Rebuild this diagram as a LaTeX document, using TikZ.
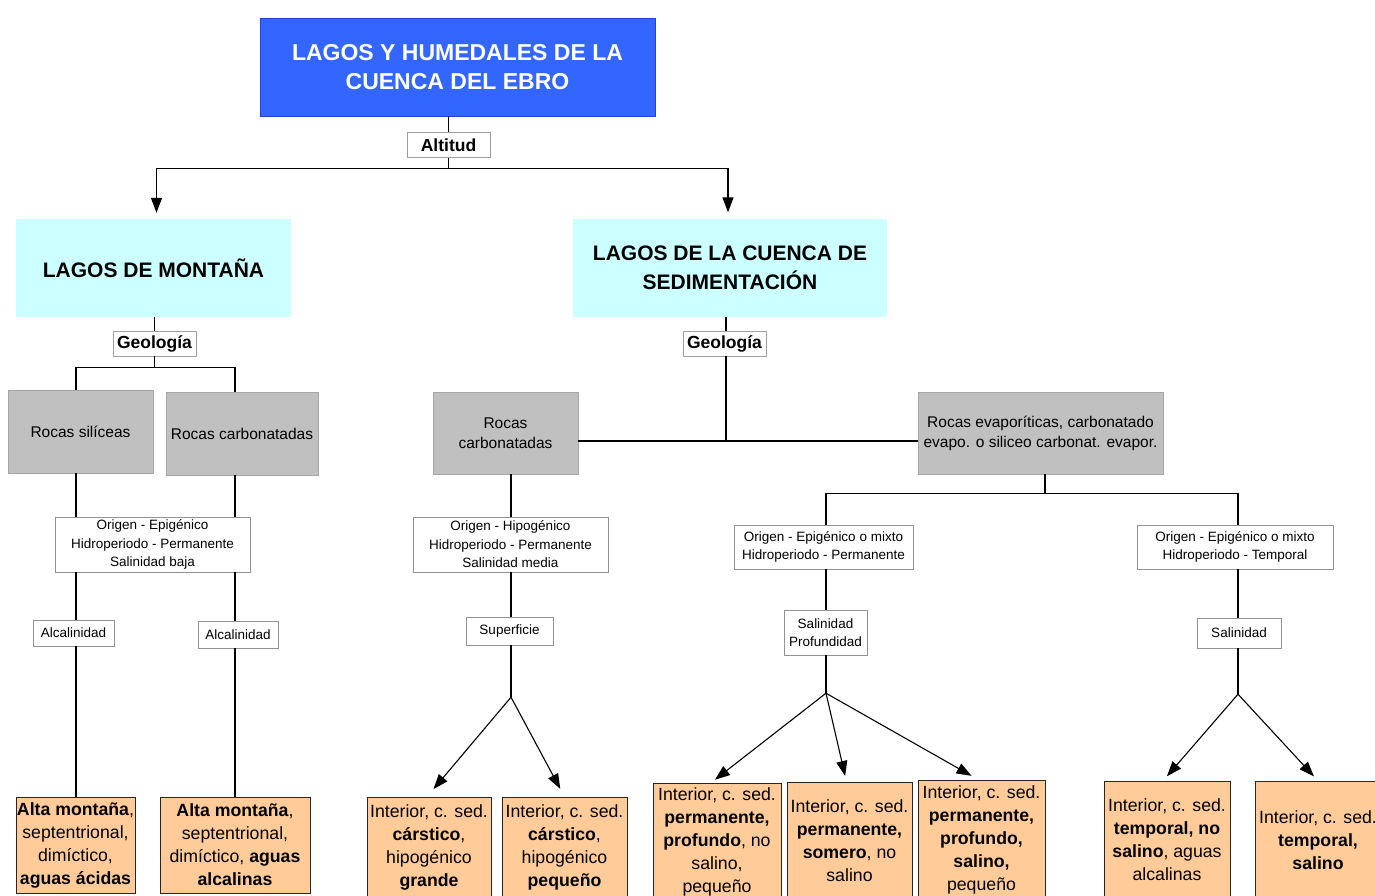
\documentclass[tikz,border=0pt]{standalone}
\usepackage{fontspec}
\setmainfont{Liberation Sans}
\usetikzlibrary{arrows.meta}
\definecolor{titleblue}{HTML}{3366FF}
\definecolor{titleline}{HTML}{2040E0}
\definecolor{paleaqua}{HTML}{CCFFFF}
\definecolor{rockgray}{HTML}{C0C0C0}
\definecolor{rockline}{HTML}{A6A6A6}
\definecolor{lakeorange}{HTML}{FFCC99}

\begin{document}
\begin{tikzpicture}[x=1pt, y=-1pt,
  titlebox/.style={draw=titleline, fill=titleblue, text=white, minimum width=395pt, minimum height=98pt, font=\fontsize{23}{29.5}\selectfont\bfseries, align=center, inner sep=0pt},
  grupo/.style={fill=paleaqua, minimum height=98pt, font=\fontsize{21}{29}\selectfont\bfseries, align=center, inner sep=0pt},
  criterio/.style={draw=gray!75, fill=white, minimum width=83pt, minimum height=25pt, font=\fontsize{17.5}{21}\selectfont\bfseries, inner sep=0pt},
  roca/.style={draw=rockline, fill=rockgray, minimum height=83pt, font=\fontsize{15.5}{20}\selectfont, align=center, inner sep=0pt},
  rasgo/.style={draw=gray!85, fill=white, font=\fontsize{13.5}{18.5}\selectfont, align=center, inner sep=0pt},
  lago/.style={draw=black!85, fill=lakeorange, font=\fontsize{17.7}{23}\selectfont, align=center, inner sep=0pt},
  link/.style={line width=1.1pt},
  arr/.style={link, -{Triangle[length=15pt, width=11pt]}}
]
  \clip (0,0) rectangle (1375,896);

  \node[titlebox] (ebro) at (457.5,67) {LAGOS Y HUMEDALES DE LA\\CUENCA DEL EBRO};
  \node[criterio] (altitud) at (448.5,145) {Altitud};
  \node[grupo, minimum width=275pt] (montana) at (153.5,268) {LAGOS DE MONTAÑA};
  \node[grupo, minimum width=314pt] (cuenca) at (730,267.5) {LAGOS DE LA CUENCA DE\\SEDIMENTACIÓN};
  \node[criterio] (geoM) at (154.5,343.5) {Geología};
  \node[criterio] (geoC) at (724.5,343.5) {Geología};

  \node[roca, minimum width=145pt] (silic) at (80.5,431.5) {Rocas silíceas};
  \node[roca, minimum width=152pt] (carbM) at (242,433.5) {Rocas carbonatadas};
  \node[roca, minimum width=145pt, minimum height=82pt] (carbC) at (505.5,433) {Rocas\\carbonatadas};
  \node[roca, minimum width=245pt, minimum height=82pt] (evap) at (1040.5,433) {Rocas evaporíticas, carbonatado\\evapo. o siliceo carbonat. evapor.};

  \node[rasgo, minimum width=195pt, minimum height=55pt] (origL) at (152.5,544.5) {Origen - Epigénico\\Hidroperiodo - Permanente\\Salinidad baja};
  \node[rasgo, minimum width=195pt, minimum height=55pt] (origC) at (510.5,544.5) {Origen - Hipogénico\\Hidroperiodo - Permanente\\Salinidad media};
  \node[rasgo, minimum width=179pt, minimum height=44pt] (origD) at (823.5,547) {Origen - Epigénico o mixto\\Hidroperiodo - Permanente};
  \node[rasgo, minimum width=196pt, minimum height=44pt] (origE) at (1235,547) {Origen - Epigénico o mixto\\Hidroperiodo - Temporal};

  \node[rasgo, minimum width=81pt, minimum height=26pt] (alcA) at (73.5,633) {Alcalinidad};
  \node[rasgo, minimum width=80pt, minimum height=27pt] (alcB) at (238,634.5) {Alcalinidad};
  \node[rasgo, minimum width=87pt, minimum height=28pt] (superf) at (509.5,631) {Superficie};
  \node[rasgo, minimum width=83pt, minimum height=45pt] (salprof) at (825.5,632.5) {Salinidad\\Profundidad};
  \node[rasgo, minimum width=84pt, minimum height=30pt] (salin) at (1239,633) {Salinidad};

  \node[lago, minimum width=119pt, minimum height=96pt] (acidas) at (75.5,845) {\textbf{Alta montaña},\\septentrional,\\dimíctico,\\\textbf{aguas ácidas}};
  \node[lago, minimum width=150pt, minimum height=96pt] (alcalinas) at (235,845) {\textbf{Alta montaña},\\septentrional,\\dimíctico, \textbf{aguas}\\\textbf{alcalinas}};
  \node[lago, minimum width=124pt, minimum height=100pt] (carstG) at (429,847) {Interior, c. sed.\\\textbf{cárstico},\\hipogénico\\\textbf{grande}};
  \node[lago, minimum width=125pt, minimum height=100pt] (carstP) at (564.5,847) {Interior, c. sed.\\\textbf{cárstico},\\hipogénico\\\textbf{pequeño}};
  \node[lago, minimum width=128pt, minimum height=118pt] (permProf) at (717,842) {Interior, c. sed.\\\textbf{permanente,}\\\textbf{profundo}, no\\salino,\\pequeño};
  \node[lago, minimum width=125pt, minimum height=118pt] (permSom) at (849.5,841) {Interior, c. sed.\\\textbf{permanente,}\\\textbf{somero}, no\\salino};
  \node[lago, minimum width=127pt, minimum height=120pt] (permSal) at (981.5,840) {Interior, c. sed.\\\textbf{permanente,}\\\textbf{profundo,}\\\textbf{salino,}\\pequeño};
  \node[lago, minimum width=126pt, minimum height=118pt] (tempNo) at (1167,840) {Interior, c. sed.\\\textbf{temporal, no}\\\textbf{salino}, aguas\\alcalinas};
  \node[lago, minimum width=126pt, minimum height=118pt] (tempSal) at (1318,840) {Interior, c. sed.\\\textbf{temporal,}\\\textbf{salino}};

  \coordinate (colA) at (76,0);
  \coordinate (colB) at (235,0);
  \coordinate (colC) at (511,0);
  \coordinate (colD) at (826,0);
  \coordinate (colE) at (1238,0);
  \coordinate (colG) at (726,0);
  \coordinate (colH) at (1045,0);
  \coordinate (rowR) at (0,441);

  \draw[link] (ebro.south -| altitud) -- (altitud.north);
  \draw[link] (altitud.south) -- ++(0,11) coordinate (altsplit);
  \draw[arr, shorten >=6pt] (altsplit) -| ([xshift=3pt]montana.north);
  \draw[arr, shorten >=6pt] (altsplit) -| ([xshift=-2pt]cuenca.north);

  \draw[link] (montana.south -| geoM) -- (geoM.north);
  \draw[link] (geoM.south) -- ++(0,11.5) coordinate (geosplit);
  \draw[link] (silic.north -| colA) |- (geosplit) -| (carbM.north -| colB);
  \draw[link] (silic.south -| colA) -- (origL.north -| colA);
  \draw[link] (carbM.south -| colB) -- (origL.north -| colB);
  \draw[link] (origL.south -| colA) -- (alcA.north -| colA);
  \draw[link] (origL.south -| colB) -- (alcB.north -| colB);
  \draw[link] (alcA.south -| colA) -- (acidas.north -| colA);
  \draw[link] (alcB.south -| colB) -- (alcalinas.north -| colB);

  \draw[link] (cuenca.south -| colG) -- (geoC.north -| colG);
  \draw[link] (geoC.south -| colG) -- (rowR -| colG);
  \draw[link] (carbC.east |- rowR) -- (evap.west |- rowR);

  \draw[link] (carbC.south -| colC) -- (origC.north -| colC);
  \draw[link] (origC.south -| colC) -- (superf.north -| colC);
  \draw[link] (superf.south -| colC) -- ++(0,52) coordinate (supsplit);
  \draw[arr, shorten >=10pt] (supsplit) -- ([xshift=-2pt]carstG.north);
  \draw[arr, shorten >=9pt] (supsplit) -- (carstP.north);

  \draw[link] (evap.south -| colH) -- ++(0,19) coordinate (evsplit);
  \draw[link] (origD.north -| colD) |- (evsplit) -| (origE.north -| colE);
  \draw[link] (origD.south -| colD) -- (salprof.north -| colD);
  \draw[link] (salprof.south -| colD) -- ++(0,38) coordinate (spsplit);
  \draw[arr, shorten >=5pt] (spsplit) -- ([xshift=-6pt]permProf.north);
  \draw[arr, shorten >=6pt] (spsplit) -- ([xshift=-3pt]permSom.north);
  \draw[arr, shorten >=8pt] (spsplit) -- ([xshift=-3pt]permSal.north);
  \draw[link] (origE.south -| colE) -- (salin.north -| colE);
  \draw[link] (salin.south -| colE) -- ++(0,46) coordinate (sasplit);
  \draw[arr, shorten >=6pt] (sasplit) -- ([xshift=-4pt]tempNo.north);
  \draw[arr, shorten >=6pt] (sasplit) -- (tempSal.north);
\end{tikzpicture}
\end{document}
